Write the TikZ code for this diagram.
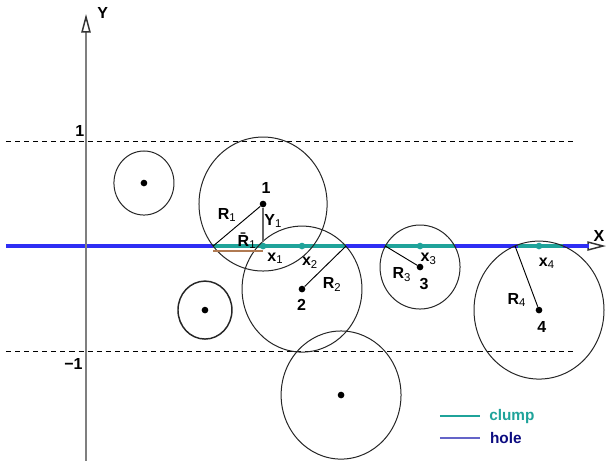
\documentclass[tikz,border=0pt]{standalone}
\usepackage{fontspec}
\setmainfont{Liberation Sans}
\usetikzlibrary{arrows.meta}
\definecolor{clBlue}{HTML}{2E2EF4}
\definecolor{clTeal}{HTML}{1FA39A}
\definecolor{clBrown}{HTML}{B07A52}
\definecolor{clGray}{HTML}{7F7F7F}
\definecolor{clNavy}{HTML}{0C0C80}
\definecolor{clLav}{HTML}{6464C8}
\newcommand{\idx}[1]{\raisebox{-0.3ex}{\mdseries\fontsize{8.5}{9}\selectfont #1}}
\tikzset{
  cl axis/.style={draw=clGray, line width=1.1pt, -{Triangle[open, length=14pt, width=7pt, color=black!80]}},
  cl guide/.style={draw=black, line width=0.7pt, dash pattern=on 3.8pt off 3pt},
  cl hole/.style={draw=clBlue, line width=2.3pt},
  cl clump/.style={draw=clTeal, line width=2.3pt},
  cl mean/.style={draw=clBrown, line width=1.5pt},
  cl ring/.style={draw=black!85, line width=0.75pt},
  cl radius/.style={draw=black, line width=0.7pt},
  cl gap/.style={draw=black!60, line width=0.9pt},
  cl dot/.style={circle, fill=black, minimum size=5pt, inner sep=0pt},
  cl bead/.style={circle, fill=clTeal, minimum size=5pt, inner sep=0pt},
  cl label/.style={font=\bfseries\fontsize{12}{14}\selectfont, inner sep=1pt},
  cl legend/.style={font=\bfseries\fontsize{11.5}{13}\selectfont, anchor=west, inner sep=0pt},
}

\begin{document}
\begin{tikzpicture}[x=78.75pt,y=78.75pt]
  \useasboundingbox (-0.819,-2.038) rectangle (4.952,2.343);
  % levels +1 and -1
  \draw[cl guide] (-0.762,1) -- (4.676,1);
  \draw[cl guide] (-0.762,-1) -- (4.676,-1);
  \node[cl label] (one) at (-0.06,1.1) {1};
  \node[cl label] (mone) at (-0.12,-1.12) {−1};
  % x axis, the hole line and the clumps on it
  \draw[cl axis] (-0.762,0) -- (4.952,0);
  \draw[cl hole] (-0.762,0) -- (4.79,0);
  \coordinate (l1) at (1.211,0);
  \coordinate (r1) at (2.476,0);
  \coordinate (l3) at (2.850,0);
  \coordinate (r3) at (3.512,0);
  \coordinate (l4) at (4.086,0);
  \coordinate (s4) at (4.112,0);
  \coordinate (r4) at (4.540,0);
  \draw[cl clump] (l1) -- (r1);
  \draw[cl clump] (l3) -- (r3);
  \draw[cl clump] (s4) -- (r4);
  \node[cl bead] (x1) at (1.686,0) {};
  \node[cl bead] (x2) at (2.057,0) {};
  \node[cl bead] (x3) at (3.181,0) {};
  \node[cl bead] (x4) at (4.314,0) {};
  % y axis
  \draw[cl axis] (0,-2.1) -- (0,2.21);
  \node[cl label] (ylab) at (0.16,2.216) {Y};
  \node[cl label, anchor=east] (xlab) at (4.952,0.1) {X};
  % free spheres
  \node[cl dot] (ca) at (0.552,0.6) {};
  \node[cl dot] (cb) at (1.133,-0.61) {};
  \node[cl dot] (c5) at (2.429,-1.419) {};
  \draw[cl ring] (ca.center) ellipse [x radius=0.286, y radius=0.305];
  \draw[cl ring, line width=1.1pt] (cb.center) ellipse [x radius=0.257, y radius=0.276];
  \draw[cl ring] (c5.center) ellipse [x radius=0.571, y radius=0.61];
  % spheres cut by the hole line
  \node[cl dot] (c1) at (1.686,0.4) {};
  \node[cl dot] (c2) at (2.057,-0.41) {};
  \node[cl dot] (c3) at (3.181,-0.2) {};
  \node[cl dot] (c4) at (4.314,-0.61) {};
  \draw[cl ring] (c1.center) ellipse [x radius=0.61, y radius=0.638];
  \draw[cl ring] (c2.center) ellipse [x radius=0.571, y radius=0.6];
  \draw[cl ring] (c3.center) ellipse [x radius=0.381, y radius=0.4];
  \draw[cl ring] (c4.center) ellipse [x radius=0.619, y radius=0.657];
  % radii and offsets
  \draw[cl radius] (c1) -- (l1);
  \draw[cl radius] (c2) -- (r1);
  \draw[cl radius] (c3) -- (l3);
  \draw[cl radius] (c4) -- (l4);
  \draw[cl gap] (c1) -- (x1);
  \coordinate (m1) at (1.211,-0.052);
  \coordinate (m2) at (1.686,-0.052);
  \draw[cl mean] (m1) -- (m2);
  % labels
  \node[cl label] (n1) at (1.714,0.55) {1};
  \node[cl label] (n2) at (2.054,-0.562) {2};
  \node[cl label] (n3) at (3.219,-0.362) {3};
  \node[cl label] (n4) at (4.340,-0.768) {4};
  \node[cl label] (lr1) at (1.34,0.295) {R\idx{1}};
  \node[cl label] (ly1) at (1.78,0.238) {Y\idx{1}};
  \node[cl label] (lm1) at (1.53,0.05) {\={R}\idx{1}};
  \node[cl label] (lx1) at (1.80,-0.117) {x\idx{1}};
  \node[cl label] (lx2) at (2.13,-0.159) {x\idx{2}};
  \node[cl label] (lr2) at (2.34,-0.365) {R\idx{2}};
  \node[cl label] (lx3) at (3.26,-0.124) {x\idx{3}};
  \node[cl label] (lr3) at (3.005,-0.27) {R\idx{3}};
  \node[cl label] (lx4) at (4.385,-0.165) {x\idx{4}};
  \node[cl label] (lr4) at (4.10,-0.514) {R\idx{4}};
  % legend
  \coordinate (k1) at (3.371,-1.619);
  \coordinate (k2) at (3.752,-1.619);
  \coordinate (k3) at (3.371,-1.829);
  \coordinate (k4) at (3.752,-1.829);
  \draw[draw=clTeal, line width=1.1pt] (k1) -- (k2);
  \draw[draw=clLav, line width=1.1pt] (k3) -- (k4);
  \node[cl legend, text=clTeal] (kclump) at (3.838,-1.619) {clump};
  \node[cl legend, text=clNavy] (khole) at (3.845,-1.829) {hole};
\end{tikzpicture}
\end{document}
